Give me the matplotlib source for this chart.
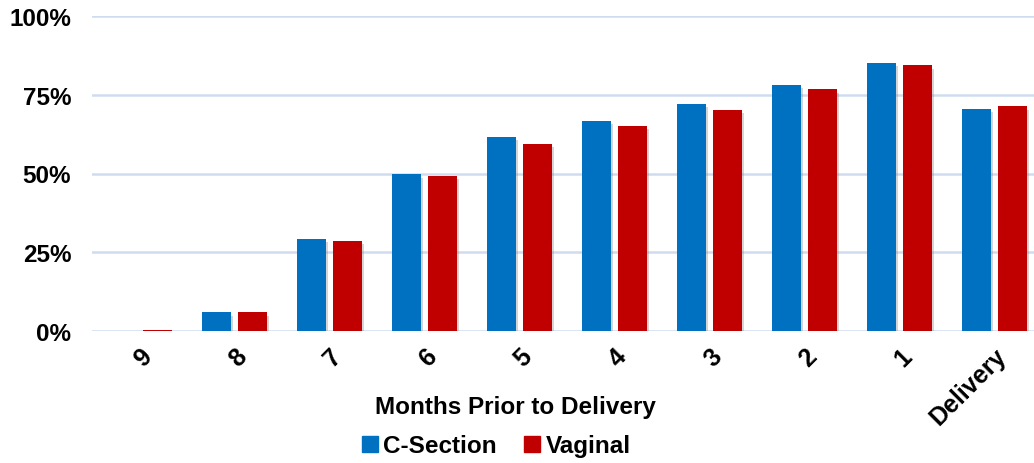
import matplotlib
matplotlib.use("Agg")
import matplotlib.pyplot as plt
import matplotlib.patheffects as pe
from matplotlib.lines import Line2D
import numpy as np

plt.rcParams["font.family"] = ["Liberation Sans", "DejaVu Sans"]
plt.rcParams["font.weight"] = "bold"

months = ["9", "8", "7", "6", "5", "4", "3", "2", "1", "Delivery"]
c_section = [0.1, 6.0, 29.2, 49.8, 61.6, 66.7, 72.1, 78.1, 85.1, 70.6]
vaginal = [0.2, 6.0, 28.6, 49.2, 59.4, 65.1, 70.2, 76.8, 84.4, 71.4]

BLUE = "#0070C0"
RED = "#C00000"
FS = 17.5

fig = plt.figure(figsize=(10.34, 4.64), dpi=100)
ax = fig.add_axes([92 / 1034, 132 / 464, 950 / 1034, 315 / 464])

x = np.arange(len(months))
w = 0.31
shadow = [pe.SimplePatchShadow(offset=(1, -2.5), shadow_rgbFace="#888888", alpha=0.35), pe.Normal()]
ax.bar(x - 0.19, c_section, w, color=BLUE, path_effects=shadow, zorder=3)
ax.bar(x + 0.19, vaginal, w, color=RED, path_effects=shadow, zorder=3)

ax.set_xlim(-0.5, len(months) - 0.5)
ax.set_ylim(0, 100)
ax.set_yticks([0, 25, 50, 75, 100])
ax.set_yticklabels(["0%", "25%", "50%", "75%", "100%"], fontsize=FS, fontweight="bold")
ax.grid(axis="y", color="#CFDCEF", linewidth=1.8, zorder=0)
ax.set_axisbelow(True)
for s in ax.spines.values():
    s.set_visible(False)
ax.tick_params(axis="y", length=0, pad=15)
ax.tick_params(axis="x", length=0, pad=9)

ax.set_xticks(x)
ax.set_xticklabels(months, rotation=45, ha="right", rotation_mode="anchor",
                   fontsize=18, fontweight="bold")

fig.text(515 / 1034, 1 - 408 / 464, "Months Prior to Delivery", ha="center", va="center",
         fontsize=FS, fontweight="bold")

handles = [Line2D([], [], marker="s", linestyle="none", color=BLUE, markersize=12),
           Line2D([], [], marker="s", linestyle="none", color=RED, markersize=12)]
fig.legend(handles, ["C-Section", "Vaginal"], loc="center", bbox_to_anchor=(495 / 1034, 1 - 447 / 464),
           ncol=2, frameon=False, prop={"size": FS, "weight": "bold"},
           handletextpad=0.1, columnspacing=1.0, handlelength=0.9)

fig.savefig("out.png", dpi=100)
